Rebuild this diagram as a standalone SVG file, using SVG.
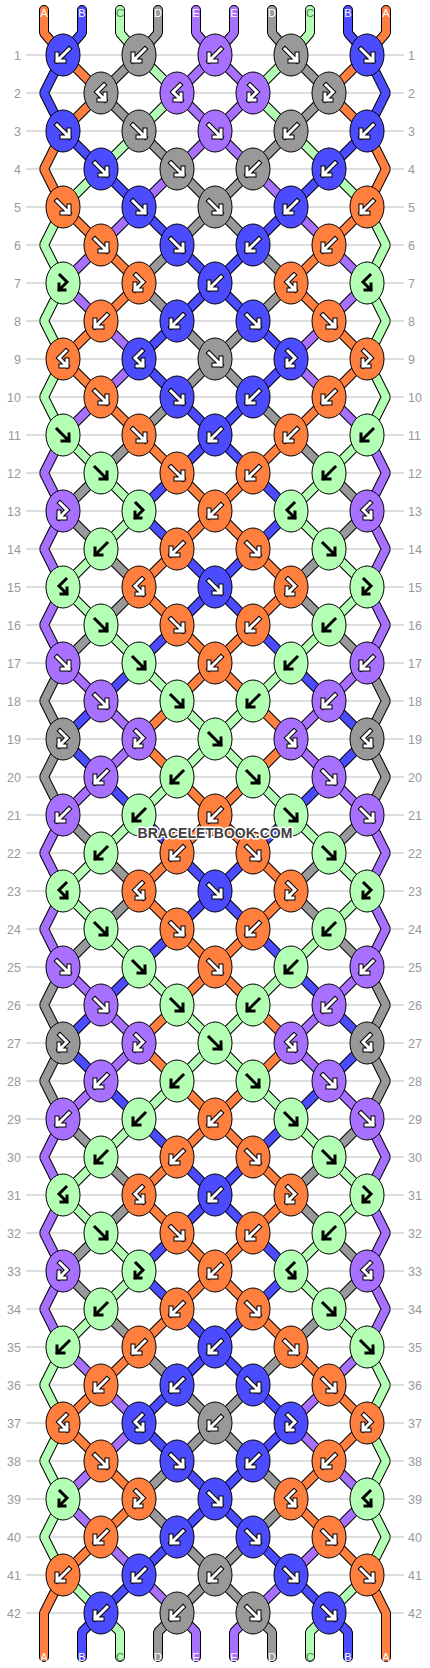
<svg xmlns="http://www.w3.org/2000/svg" xmlns:xlink="http://www.w3.org/1999/xlink" width="430" height="1668" viewBox="0 0 430 1668">
<style>
.ln{stroke:#bbb;stroke-width:1}
.rl{font-family:"Liberation Sans",Arial,sans-serif;font-size:12.5px;fill:#999}
.lt{font-family:"Liberation Sans",Arial,sans-serif;font-size:11px;text-anchor:middle;fill:#fff}
.lt.g{fill:#557755}
.so{fill:none;stroke:#000;stroke-width:10;stroke-linecap:round;stroke-linejoin:bevel}
.sc{fill:none;stroke-width:8;stroke-linecap:round;stroke-linejoin:bevel}
.sA{stroke:#FF7F3F}.sB{stroke:#4B4BFF}.sC{stroke:#B3FFB3}.sD{stroke:#999999}.sE{stroke:#A870FF}
ellipse{stroke:#000;stroke-width:1}
.a{fill:#FF7F3F}.b{fill:#4B4BFF}.c{fill:#B3FFB3}.d{fill:#999999}.e{fill:#A870FF}
.o{fill:none;stroke:#000;stroke-width:5;stroke-linecap:square;stroke-linejoin:miter}
.w{fill:none;stroke:#fff;stroke-width:3;stroke-linecap:square;stroke-linejoin:miter}
.k{fill:none;stroke:#000;stroke-width:3;stroke-linecap:square;stroke-linejoin:miter}
.wm{font-family:"Liberation Sans",Arial,sans-serif;font-weight:bold;font-size:14px;text-anchor:middle;fill:#404040;stroke:#fff;stroke-width:3;paint-order:stroke;stroke-linejoin:round}
</style>
<defs>
<path id="pF" d="M-6,-6L6,6M6,-1V6H-1"/>
<path id="pB" d="M6,-6L-6,6M-6,-1V6H1"/>
<path id="pFB" d="M-3,-8L4,-1L-4,7M-4,1V7H2"/>
<path id="pBF" d="M3,-8L-4,-1L4,7M4,1V7H-2"/>
<g id="wF"><use href="#pF" class="o"/><use href="#pF" class="w"/></g>
<g id="wB"><use href="#pB" class="o"/><use href="#pB" class="w"/></g>
<g id="wFB"><use href="#pFB" class="o"/><use href="#pFB" class="w"/></g>
<g id="wBF"><use href="#pBF" class="o"/><use href="#pBF" class="w"/></g>
<g id="kF"><use href="#pF" class="k"/></g>
<g id="kB"><use href="#pB" class="k"/></g>
<g id="kFB"><use href="#pFB" class="k"/></g>
<g id="kBF"><use href="#pBF" class="k"/></g>
<path id="stA" d="M44,10V33L63,55 101,93 63,131 44,169 63,207 101,245 139,283 101,321 63,359 101,397 139,435 177,473 215,511 177,549 139,587 177,625 215,663 177,701 139,739 177,777 215,815 177,853 139,891 177,929 215,967 177,1005 139,1043 177,1081 215,1119 177,1157 139,1195 177,1233 215,1271 177,1309 139,1347 101,1385 63,1423 101,1461 139,1499 101,1537 63,1575 44,1613V1657"/>
<path id="stB" d="M82,10V33L63,55 44,93 63,131 101,169 139,207 177,245 215,283 177,321 139,359 177,397 215,435 177,473 139,511 177,549 215,587 177,625 139,663 101,701 63,739 101,777 139,815 177,853 215,891 177,929 139,967 101,1005 63,1043 101,1081 139,1119 177,1157 215,1195 177,1233 139,1271 177,1309 215,1347 177,1385 139,1423 177,1461 215,1499 177,1537 139,1575 101,1613 82,1632V1657"/>
<path id="stC" d="M120,10V33L139,55 177,93 139,131 101,169 63,207 44,245 63,283 44,321 63,359 44,397 63,435 101,473 139,511 101,549 63,587 101,625 139,663 177,701 215,739 177,777 139,815 101,853 63,891 101,929 139,967 177,1005 215,1043 177,1081 139,1119 101,1157 63,1195 101,1233 139,1271 101,1309 63,1347 44,1385 63,1423 44,1461 63,1499 44,1537 63,1575 101,1613 120,1632V1657"/>
<path id="stD" d="M158,10V33L139,55 101,93 139,131 177,169 215,207 177,245 139,283 177,321 215,359 177,397 139,435 101,473 63,511 101,549 139,587 101,625 63,663 44,701 63,739 44,777 63,815 101,853 139,891 101,929 63,967 44,1005 63,1043 44,1081 63,1119 101,1157 139,1195 101,1233 63,1271 101,1309 139,1347 177,1385 215,1423 177,1461 139,1499 177,1537 215,1575 177,1613 158,1632V1657"/>
<path id="stE" d="M196,10V33L215,55 177,93 215,131 177,169 139,207 101,245 63,283 101,321 139,359 101,397 63,435 44,473 63,511 44,549 63,587 44,625 63,663 101,701 139,739 101,777 63,815 44,853 63,891 44,929 63,967 101,1005 139,1043 101,1081 63,1119 44,1157 63,1195 44,1233 63,1271 44,1309 63,1347 101,1385 139,1423 101,1461 63,1499 101,1537 139,1575 177,1613 196,1632V1657"/>
</defs>
<rect width="430" height="1668" fill="#fff"/>
<g id="rowlines">
<path class="ln" d="M26,55H404M26,93H404M26,131H404M26,169H404M26,207H404M26,245H404M26,283H404M26,321H404M26,359H404M26,397H404M26,435H404M26,473H404M26,511H404M26,549H404M26,587H404M26,625H404M26,663H404M26,701H404M26,739H404M26,777H404M26,815H404M26,853H404M26,891H404M26,929H404M26,967H404M26,1005H404M26,1043H404M26,1081H404M26,1119H404M26,1157H404M26,1195H404M26,1233H404M26,1271H404M26,1309H404M26,1347H404M26,1385H404M26,1423H404M26,1461H404M26,1499H404M26,1537H404M26,1575H404M26,1613H404"/>
</g>
<g id="rownumbers-left" class="rl" text-anchor="end">
<text x="21" y="59.5">1</text><text x="21" y="97.5">2</text><text x="21" y="135.5">3</text><text x="21" y="173.5">4</text><text x="21" y="211.5">5</text><text x="21" y="249.5">6</text><text x="21" y="287.5">7</text><text x="21" y="325.5">8</text><text x="21" y="363.5">9</text><text x="21" y="401.5">10</text><text x="21" y="439.5">11</text><text x="21" y="477.5">12</text><text x="21" y="515.5">13</text><text x="21" y="553.5">14</text><text x="21" y="591.5">15</text><text x="21" y="629.5">16</text><text x="21" y="667.5">17</text><text x="21" y="705.5">18</text><text x="21" y="743.5">19</text><text x="21" y="781.5">20</text><text x="21" y="819.5">21</text><text x="21" y="857.5">22</text><text x="21" y="895.5">23</text><text x="21" y="933.5">24</text><text x="21" y="971.5">25</text><text x="21" y="1009.5">26</text><text x="21" y="1047.5">27</text><text x="21" y="1085.5">28</text><text x="21" y="1123.5">29</text><text x="21" y="1161.5">30</text><text x="21" y="1199.5">31</text><text x="21" y="1237.5">32</text><text x="21" y="1275.5">33</text><text x="21" y="1313.5">34</text><text x="21" y="1351.5">35</text><text x="21" y="1389.5">36</text><text x="21" y="1427.5">37</text><text x="21" y="1465.5">38</text><text x="21" y="1503.5">39</text><text x="21" y="1541.5">40</text><text x="21" y="1579.5">41</text><text x="21" y="1617.5">42</text>
</g>
<g id="rownumbers-right" class="rl" text-anchor="start">
<text x="408" y="59.5">1</text><text x="408" y="97.5">2</text><text x="408" y="135.5">3</text><text x="408" y="173.5">4</text><text x="408" y="211.5">5</text><text x="408" y="249.5">6</text><text x="408" y="287.5">7</text><text x="408" y="325.5">8</text><text x="408" y="363.5">9</text><text x="408" y="401.5">10</text><text x="408" y="439.5">11</text><text x="408" y="477.5">12</text><text x="408" y="515.5">13</text><text x="408" y="553.5">14</text><text x="408" y="591.5">15</text><text x="408" y="629.5">16</text><text x="408" y="667.5">17</text><text x="408" y="705.5">18</text><text x="408" y="743.5">19</text><text x="408" y="781.5">20</text><text x="408" y="819.5">21</text><text x="408" y="857.5">22</text><text x="408" y="895.5">23</text><text x="408" y="933.5">24</text><text x="408" y="971.5">25</text><text x="408" y="1009.5">26</text><text x="408" y="1047.5">27</text><text x="408" y="1085.5">28</text><text x="408" y="1123.5">29</text><text x="408" y="1161.5">30</text><text x="408" y="1199.5">31</text><text x="408" y="1237.5">32</text><text x="408" y="1275.5">33</text><text x="408" y="1313.5">34</text><text x="408" y="1351.5">35</text><text x="408" y="1389.5">36</text><text x="408" y="1427.5">37</text><text x="408" y="1465.5">38</text><text x="408" y="1503.5">39</text><text x="408" y="1541.5">40</text><text x="408" y="1579.5">41</text><text x="408" y="1617.5">42</text>
</g>
<g id="connectors">
<use href="#stA" class="so"/><use href="#stB" class="so"/><use href="#stC" class="so"/><use href="#stD" class="so"/><use href="#stE" class="so"/>
<use href="#stA" class="so" transform="matrix(-1 0 0 1 430 0)"/><use href="#stB" class="so" transform="matrix(-1 0 0 1 430 0)"/><use href="#stC" class="so" transform="matrix(-1 0 0 1 430 0)"/><use href="#stD" class="so" transform="matrix(-1 0 0 1 430 0)"/><use href="#stE" class="so" transform="matrix(-1 0 0 1 430 0)"/>
<use href="#stA" class="sc sA"/><use href="#stB" class="sc sB"/><use href="#stC" class="sc sC"/><use href="#stD" class="sc sD"/><use href="#stE" class="sc sE"/>
<use href="#stA" class="sc sA" transform="matrix(-1 0 0 1 430 0)"/><use href="#stB" class="sc sB" transform="matrix(-1 0 0 1 430 0)"/><use href="#stC" class="sc sC" transform="matrix(-1 0 0 1 430 0)"/><use href="#stD" class="sc sD" transform="matrix(-1 0 0 1 430 0)"/><use href="#stE" class="sc sE" transform="matrix(-1 0 0 1 430 0)"/>
</g>
<g id="strand-labels">
<text class="lt" x="44" y="17">A</text><text class="lt" x="82" y="17">B</text><text class="lt g" x="120" y="17">C</text><text class="lt" x="158" y="17">D</text><text class="lt" x="196" y="17">E</text><text class="lt" x="234" y="17">E</text><text class="lt" x="272" y="17">D</text><text class="lt g" x="310" y="17">C</text><text class="lt" x="348" y="17">B</text><text class="lt" x="386" y="17">A</text>
<text class="lt" x="44" y="1661">A</text><text class="lt" x="82" y="1661">B</text><text class="lt g" x="120" y="1661">C</text><text class="lt" x="158" y="1661">D</text><text class="lt" x="196" y="1661">E</text><text class="lt" x="234" y="1661">E</text><text class="lt" x="272" y="1661">D</text><text class="lt g" x="310" y="1661">C</text><text class="lt" x="348" y="1661">B</text><text class="lt" x="386" y="1661">A</text>
</g>
<g id="nodes">
<g id="n1-1"><ellipse class="b" cx="63" cy="55" rx="17" ry="21"/><use href="#wB" x="63" y="55"/></g>
<g id="n1-2"><ellipse class="d" cx="139" cy="55" rx="17" ry="21"/><use href="#wB" x="139" y="55"/></g>
<g id="n1-3"><ellipse class="e" cx="215" cy="55" rx="17" ry="21"/><use href="#wB" x="215" y="55"/></g>
<g id="n1-4"><ellipse class="d" cx="291" cy="55" rx="17" ry="21"/><use href="#wF" x="291" y="55"/></g>
<g id="n1-5"><ellipse class="b" cx="367" cy="55" rx="17" ry="21"/><use href="#wF" x="367" y="55"/></g>
<g id="n2-1"><ellipse class="d" cx="101" cy="93" rx="17" ry="21"/><use href="#wBF" x="101" y="93"/></g>
<g id="n2-2"><ellipse class="e" cx="177" cy="93" rx="17" ry="21"/><use href="#wBF" x="177" y="93"/></g>
<g id="n2-3"><ellipse class="e" cx="253" cy="93" rx="17" ry="21"/><use href="#wFB" x="253" y="93"/></g>
<g id="n2-4"><ellipse class="d" cx="329" cy="93" rx="17" ry="21"/><use href="#wFB" x="329" y="93"/></g>
<g id="n3-1"><ellipse class="b" cx="63" cy="131" rx="17" ry="21"/><use href="#wF" x="63" y="131"/></g>
<g id="n3-2"><ellipse class="d" cx="139" cy="131" rx="17" ry="21"/><use href="#wF" x="139" y="131"/></g>
<g id="n3-3"><ellipse class="e" cx="215" cy="131" rx="17" ry="21"/><use href="#wF" x="215" y="131"/></g>
<g id="n3-4"><ellipse class="d" cx="291" cy="131" rx="17" ry="21"/><use href="#wB" x="291" y="131"/></g>
<g id="n3-5"><ellipse class="b" cx="367" cy="131" rx="17" ry="21"/><use href="#wB" x="367" y="131"/></g>
<g id="n4-1"><ellipse class="b" cx="101" cy="169" rx="17" ry="21"/><use href="#wF" x="101" y="169"/></g>
<g id="n4-2"><ellipse class="d" cx="177" cy="169" rx="17" ry="21"/><use href="#wF" x="177" y="169"/></g>
<g id="n4-3"><ellipse class="d" cx="253" cy="169" rx="17" ry="21"/><use href="#wB" x="253" y="169"/></g>
<g id="n4-4"><ellipse class="b" cx="329" cy="169" rx="17" ry="21"/><use href="#wB" x="329" y="169"/></g>
<g id="n5-1"><ellipse class="a" cx="63" cy="207" rx="17" ry="21"/><use href="#wF" x="63" y="207"/></g>
<g id="n5-2"><ellipse class="b" cx="139" cy="207" rx="17" ry="21"/><use href="#wF" x="139" y="207"/></g>
<g id="n5-3"><ellipse class="d" cx="215" cy="207" rx="17" ry="21"/><use href="#wF" x="215" y="207"/></g>
<g id="n5-4"><ellipse class="b" cx="291" cy="207" rx="17" ry="21"/><use href="#wB" x="291" y="207"/></g>
<g id="n5-5"><ellipse class="a" cx="367" cy="207" rx="17" ry="21"/><use href="#wB" x="367" y="207"/></g>
<g id="n6-1"><ellipse class="a" cx="101" cy="245" rx="17" ry="21"/><use href="#wF" x="101" y="245"/></g>
<g id="n6-2"><ellipse class="b" cx="177" cy="245" rx="17" ry="21"/><use href="#wF" x="177" y="245"/></g>
<g id="n6-3"><ellipse class="b" cx="253" cy="245" rx="17" ry="21"/><use href="#wB" x="253" y="245"/></g>
<g id="n6-4"><ellipse class="a" cx="329" cy="245" rx="17" ry="21"/><use href="#wB" x="329" y="245"/></g>
<g id="n7-1"><ellipse class="c" cx="63" cy="283" rx="17" ry="21"/><use href="#kFB" x="63" y="283"/></g>
<g id="n7-2"><ellipse class="a" cx="139" cy="283" rx="17" ry="21"/><use href="#wFB" x="139" y="283"/></g>
<g id="n7-3"><ellipse class="b" cx="215" cy="283" rx="17" ry="21"/><use href="#wB" x="215" y="283"/></g>
<g id="n7-4"><ellipse class="a" cx="291" cy="283" rx="17" ry="21"/><use href="#wBF" x="291" y="283"/></g>
<g id="n7-5"><ellipse class="c" cx="367" cy="283" rx="17" ry="21"/><use href="#kBF" x="367" y="283"/></g>
<g id="n8-1"><ellipse class="a" cx="101" cy="321" rx="17" ry="21"/><use href="#wB" x="101" y="321"/></g>
<g id="n8-2"><ellipse class="b" cx="177" cy="321" rx="17" ry="21"/><use href="#wB" x="177" y="321"/></g>
<g id="n8-3"><ellipse class="b" cx="253" cy="321" rx="17" ry="21"/><use href="#wF" x="253" y="321"/></g>
<g id="n8-4"><ellipse class="a" cx="329" cy="321" rx="17" ry="21"/><use href="#wF" x="329" y="321"/></g>
<g id="n9-1"><ellipse class="a" cx="63" cy="359" rx="17" ry="21"/><use href="#wBF" x="63" y="359"/></g>
<g id="n9-2"><ellipse class="b" cx="139" cy="359" rx="17" ry="21"/><use href="#wBF" x="139" y="359"/></g>
<g id="n9-3"><ellipse class="d" cx="215" cy="359" rx="17" ry="21"/><use href="#wF" x="215" y="359"/></g>
<g id="n9-4"><ellipse class="b" cx="291" cy="359" rx="17" ry="21"/><use href="#wFB" x="291" y="359"/></g>
<g id="n9-5"><ellipse class="a" cx="367" cy="359" rx="17" ry="21"/><use href="#wFB" x="367" y="359"/></g>
<g id="n10-1"><ellipse class="a" cx="101" cy="397" rx="17" ry="21"/><use href="#wF" x="101" y="397"/></g>
<g id="n10-2"><ellipse class="b" cx="177" cy="397" rx="17" ry="21"/><use href="#wF" x="177" y="397"/></g>
<g id="n10-3"><ellipse class="b" cx="253" cy="397" rx="17" ry="21"/><use href="#wB" x="253" y="397"/></g>
<g id="n10-4"><ellipse class="a" cx="329" cy="397" rx="17" ry="21"/><use href="#wB" x="329" y="397"/></g>
<g id="n11-1"><ellipse class="c" cx="63" cy="435" rx="17" ry="21"/><use href="#kF" x="63" y="435"/></g>
<g id="n11-2"><ellipse class="a" cx="139" cy="435" rx="17" ry="21"/><use href="#wF" x="139" y="435"/></g>
<g id="n11-3"><ellipse class="b" cx="215" cy="435" rx="17" ry="21"/><use href="#wB" x="215" y="435"/></g>
<g id="n11-4"><ellipse class="a" cx="291" cy="435" rx="17" ry="21"/><use href="#wB" x="291" y="435"/></g>
<g id="n11-5"><ellipse class="c" cx="367" cy="435" rx="17" ry="21"/><use href="#kB" x="367" y="435"/></g>
<g id="n12-1"><ellipse class="c" cx="101" cy="473" rx="17" ry="21"/><use href="#kF" x="101" y="473"/></g>
<g id="n12-2"><ellipse class="a" cx="177" cy="473" rx="17" ry="21"/><use href="#wF" x="177" y="473"/></g>
<g id="n12-3"><ellipse class="a" cx="253" cy="473" rx="17" ry="21"/><use href="#wB" x="253" y="473"/></g>
<g id="n12-4"><ellipse class="c" cx="329" cy="473" rx="17" ry="21"/><use href="#kB" x="329" y="473"/></g>
<g id="n13-1"><ellipse class="e" cx="63" cy="511" rx="17" ry="21"/><use href="#wFB" x="63" y="511"/></g>
<g id="n13-2"><ellipse class="c" cx="139" cy="511" rx="17" ry="21"/><use href="#kFB" x="139" y="511"/></g>
<g id="n13-3"><ellipse class="a" cx="215" cy="511" rx="17" ry="21"/><use href="#wB" x="215" y="511"/></g>
<g id="n13-4"><ellipse class="c" cx="291" cy="511" rx="17" ry="21"/><use href="#kBF" x="291" y="511"/></g>
<g id="n13-5"><ellipse class="e" cx="367" cy="511" rx="17" ry="21"/><use href="#wBF" x="367" y="511"/></g>
<g id="n14-1"><ellipse class="c" cx="101" cy="549" rx="17" ry="21"/><use href="#kB" x="101" y="549"/></g>
<g id="n14-2"><ellipse class="a" cx="177" cy="549" rx="17" ry="21"/><use href="#wB" x="177" y="549"/></g>
<g id="n14-3"><ellipse class="a" cx="253" cy="549" rx="17" ry="21"/><use href="#wF" x="253" y="549"/></g>
<g id="n14-4"><ellipse class="c" cx="329" cy="549" rx="17" ry="21"/><use href="#kF" x="329" y="549"/></g>
<g id="n15-1"><ellipse class="c" cx="63" cy="587" rx="17" ry="21"/><use href="#kBF" x="63" y="587"/></g>
<g id="n15-2"><ellipse class="a" cx="139" cy="587" rx="17" ry="21"/><use href="#wBF" x="139" y="587"/></g>
<g id="n15-3"><ellipse class="b" cx="215" cy="587" rx="17" ry="21"/><use href="#wF" x="215" y="587"/></g>
<g id="n15-4"><ellipse class="a" cx="291" cy="587" rx="17" ry="21"/><use href="#wFB" x="291" y="587"/></g>
<g id="n15-5"><ellipse class="c" cx="367" cy="587" rx="17" ry="21"/><use href="#kFB" x="367" y="587"/></g>
<g id="n16-1"><ellipse class="c" cx="101" cy="625" rx="17" ry="21"/><use href="#kF" x="101" y="625"/></g>
<g id="n16-2"><ellipse class="a" cx="177" cy="625" rx="17" ry="21"/><use href="#wF" x="177" y="625"/></g>
<g id="n16-3"><ellipse class="a" cx="253" cy="625" rx="17" ry="21"/><use href="#wB" x="253" y="625"/></g>
<g id="n16-4"><ellipse class="c" cx="329" cy="625" rx="17" ry="21"/><use href="#kB" x="329" y="625"/></g>
<g id="n17-1"><ellipse class="e" cx="63" cy="663" rx="17" ry="21"/><use href="#wF" x="63" y="663"/></g>
<g id="n17-2"><ellipse class="c" cx="139" cy="663" rx="17" ry="21"/><use href="#kF" x="139" y="663"/></g>
<g id="n17-3"><ellipse class="a" cx="215" cy="663" rx="17" ry="21"/><use href="#wB" x="215" y="663"/></g>
<g id="n17-4"><ellipse class="c" cx="291" cy="663" rx="17" ry="21"/><use href="#kB" x="291" y="663"/></g>
<g id="n17-5"><ellipse class="e" cx="367" cy="663" rx="17" ry="21"/><use href="#wB" x="367" y="663"/></g>
<g id="n18-1"><ellipse class="e" cx="101" cy="701" rx="17" ry="21"/><use href="#wF" x="101" y="701"/></g>
<g id="n18-2"><ellipse class="c" cx="177" cy="701" rx="17" ry="21"/><use href="#kF" x="177" y="701"/></g>
<g id="n18-3"><ellipse class="c" cx="253" cy="701" rx="17" ry="21"/><use href="#kB" x="253" y="701"/></g>
<g id="n18-4"><ellipse class="e" cx="329" cy="701" rx="17" ry="21"/><use href="#wB" x="329" y="701"/></g>
<g id="n19-1"><ellipse class="d" cx="63" cy="739" rx="17" ry="21"/><use href="#wFB" x="63" y="739"/></g>
<g id="n19-2"><ellipse class="e" cx="139" cy="739" rx="17" ry="21"/><use href="#wFB" x="139" y="739"/></g>
<g id="n19-3"><ellipse class="c" cx="215" cy="739" rx="17" ry="21"/><use href="#kF" x="215" y="739"/></g>
<g id="n19-4"><ellipse class="e" cx="291" cy="739" rx="17" ry="21"/><use href="#wBF" x="291" y="739"/></g>
<g id="n19-5"><ellipse class="d" cx="367" cy="739" rx="17" ry="21"/><use href="#wBF" x="367" y="739"/></g>
<g id="n20-1"><ellipse class="e" cx="101" cy="777" rx="17" ry="21"/><use href="#wB" x="101" y="777"/></g>
<g id="n20-2"><ellipse class="c" cx="177" cy="777" rx="17" ry="21"/><use href="#kB" x="177" y="777"/></g>
<g id="n20-3"><ellipse class="c" cx="253" cy="777" rx="17" ry="21"/><use href="#kF" x="253" y="777"/></g>
<g id="n20-4"><ellipse class="e" cx="329" cy="777" rx="17" ry="21"/><use href="#wF" x="329" y="777"/></g>
<g id="n21-1"><ellipse class="e" cx="63" cy="815" rx="17" ry="21"/><use href="#wB" x="63" y="815"/></g>
<g id="n21-2"><ellipse class="c" cx="139" cy="815" rx="17" ry="21"/><use href="#kB" x="139" y="815"/></g>
<g id="n21-3"><ellipse class="a" cx="215" cy="815" rx="17" ry="21"/><use href="#wB" x="215" y="815"/></g>
<g id="n21-4"><ellipse class="c" cx="291" cy="815" rx="17" ry="21"/><use href="#kF" x="291" y="815"/></g>
<g id="n21-5"><ellipse class="e" cx="367" cy="815" rx="17" ry="21"/><use href="#wF" x="367" y="815"/></g>
<g id="n22-1"><ellipse class="c" cx="101" cy="853" rx="17" ry="21"/><use href="#kB" x="101" y="853"/></g>
<g id="n22-2"><ellipse class="a" cx="177" cy="853" rx="17" ry="21"/><use href="#wB" x="177" y="853"/></g>
<g id="n22-3"><ellipse class="a" cx="253" cy="853" rx="17" ry="21"/><use href="#wF" x="253" y="853"/></g>
<g id="n22-4"><ellipse class="c" cx="329" cy="853" rx="17" ry="21"/><use href="#kF" x="329" y="853"/></g>
<g id="n23-1"><ellipse class="c" cx="63" cy="891" rx="17" ry="21"/><use href="#kBF" x="63" y="891"/></g>
<g id="n23-2"><ellipse class="a" cx="139" cy="891" rx="17" ry="21"/><use href="#wBF" x="139" y="891"/></g>
<g id="n23-3"><ellipse class="b" cx="215" cy="891" rx="17" ry="21"/><use href="#wF" x="215" y="891"/></g>
<g id="n23-4"><ellipse class="a" cx="291" cy="891" rx="17" ry="21"/><use href="#wFB" x="291" y="891"/></g>
<g id="n23-5"><ellipse class="c" cx="367" cy="891" rx="17" ry="21"/><use href="#kFB" x="367" y="891"/></g>
<g id="n24-1"><ellipse class="c" cx="101" cy="929" rx="17" ry="21"/><use href="#kF" x="101" y="929"/></g>
<g id="n24-2"><ellipse class="a" cx="177" cy="929" rx="17" ry="21"/><use href="#wF" x="177" y="929"/></g>
<g id="n24-3"><ellipse class="a" cx="253" cy="929" rx="17" ry="21"/><use href="#wB" x="253" y="929"/></g>
<g id="n24-4"><ellipse class="c" cx="329" cy="929" rx="17" ry="21"/><use href="#kB" x="329" y="929"/></g>
<g id="n25-1"><ellipse class="e" cx="63" cy="967" rx="17" ry="21"/><use href="#wF" x="63" y="967"/></g>
<g id="n25-2"><ellipse class="c" cx="139" cy="967" rx="17" ry="21"/><use href="#kF" x="139" y="967"/></g>
<g id="n25-3"><ellipse class="a" cx="215" cy="967" rx="17" ry="21"/><use href="#wF" x="215" y="967"/></g>
<g id="n25-4"><ellipse class="c" cx="291" cy="967" rx="17" ry="21"/><use href="#kB" x="291" y="967"/></g>
<g id="n25-5"><ellipse class="e" cx="367" cy="967" rx="17" ry="21"/><use href="#wB" x="367" y="967"/></g>
<g id="n26-1"><ellipse class="e" cx="101" cy="1005" rx="17" ry="21"/><use href="#wF" x="101" y="1005"/></g>
<g id="n26-2"><ellipse class="c" cx="177" cy="1005" rx="17" ry="21"/><use href="#kF" x="177" y="1005"/></g>
<g id="n26-3"><ellipse class="c" cx="253" cy="1005" rx="17" ry="21"/><use href="#kB" x="253" y="1005"/></g>
<g id="n26-4"><ellipse class="e" cx="329" cy="1005" rx="17" ry="21"/><use href="#wB" x="329" y="1005"/></g>
<g id="n27-1"><ellipse class="d" cx="63" cy="1043" rx="17" ry="21"/><use href="#wFB" x="63" y="1043"/></g>
<g id="n27-2"><ellipse class="e" cx="139" cy="1043" rx="17" ry="21"/><use href="#wFB" x="139" y="1043"/></g>
<g id="n27-3"><ellipse class="c" cx="215" cy="1043" rx="17" ry="21"/><use href="#kF" x="215" y="1043"/></g>
<g id="n27-4"><ellipse class="e" cx="291" cy="1043" rx="17" ry="21"/><use href="#wBF" x="291" y="1043"/></g>
<g id="n27-5"><ellipse class="d" cx="367" cy="1043" rx="17" ry="21"/><use href="#wBF" x="367" y="1043"/></g>
<g id="n28-1"><ellipse class="e" cx="101" cy="1081" rx="17" ry="21"/><use href="#wB" x="101" y="1081"/></g>
<g id="n28-2"><ellipse class="c" cx="177" cy="1081" rx="17" ry="21"/><use href="#kB" x="177" y="1081"/></g>
<g id="n28-3"><ellipse class="c" cx="253" cy="1081" rx="17" ry="21"/><use href="#kF" x="253" y="1081"/></g>
<g id="n28-4"><ellipse class="e" cx="329" cy="1081" rx="17" ry="21"/><use href="#wF" x="329" y="1081"/></g>
<g id="n29-1"><ellipse class="e" cx="63" cy="1119" rx="17" ry="21"/><use href="#wB" x="63" y="1119"/></g>
<g id="n29-2"><ellipse class="c" cx="139" cy="1119" rx="17" ry="21"/><use href="#kB" x="139" y="1119"/></g>
<g id="n29-3"><ellipse class="a" cx="215" cy="1119" rx="17" ry="21"/><use href="#wB" x="215" y="1119"/></g>
<g id="n29-4"><ellipse class="c" cx="291" cy="1119" rx="17" ry="21"/><use href="#kF" x="291" y="1119"/></g>
<g id="n29-5"><ellipse class="e" cx="367" cy="1119" rx="17" ry="21"/><use href="#wF" x="367" y="1119"/></g>
<g id="n30-1"><ellipse class="c" cx="101" cy="1157" rx="17" ry="21"/><use href="#kB" x="101" y="1157"/></g>
<g id="n30-2"><ellipse class="a" cx="177" cy="1157" rx="17" ry="21"/><use href="#wB" x="177" y="1157"/></g>
<g id="n30-3"><ellipse class="a" cx="253" cy="1157" rx="17" ry="21"/><use href="#wF" x="253" y="1157"/></g>
<g id="n30-4"><ellipse class="c" cx="329" cy="1157" rx="17" ry="21"/><use href="#kF" x="329" y="1157"/></g>
<g id="n31-1"><ellipse class="c" cx="63" cy="1195" rx="17" ry="21"/><use href="#kBF" x="63" y="1195"/></g>
<g id="n31-2"><ellipse class="a" cx="139" cy="1195" rx="17" ry="21"/><use href="#wBF" x="139" y="1195"/></g>
<g id="n31-3"><ellipse class="b" cx="215" cy="1195" rx="17" ry="21"/><use href="#wB" x="215" y="1195"/></g>
<g id="n31-4"><ellipse class="a" cx="291" cy="1195" rx="17" ry="21"/><use href="#wFB" x="291" y="1195"/></g>
<g id="n31-5"><ellipse class="c" cx="367" cy="1195" rx="17" ry="21"/><use href="#kFB" x="367" y="1195"/></g>
<g id="n32-1"><ellipse class="c" cx="101" cy="1233" rx="17" ry="21"/><use href="#kF" x="101" y="1233"/></g>
<g id="n32-2"><ellipse class="a" cx="177" cy="1233" rx="17" ry="21"/><use href="#wF" x="177" y="1233"/></g>
<g id="n32-3"><ellipse class="a" cx="253" cy="1233" rx="17" ry="21"/><use href="#wB" x="253" y="1233"/></g>
<g id="n32-4"><ellipse class="c" cx="329" cy="1233" rx="17" ry="21"/><use href="#kB" x="329" y="1233"/></g>
<g id="n33-1"><ellipse class="e" cx="63" cy="1271" rx="17" ry="21"/><use href="#wFB" x="63" y="1271"/></g>
<g id="n33-2"><ellipse class="c" cx="139" cy="1271" rx="17" ry="21"/><use href="#kFB" x="139" y="1271"/></g>
<g id="n33-3"><ellipse class="a" cx="215" cy="1271" rx="17" ry="21"/><use href="#wB" x="215" y="1271"/></g>
<g id="n33-4"><ellipse class="c" cx="291" cy="1271" rx="17" ry="21"/><use href="#kBF" x="291" y="1271"/></g>
<g id="n33-5"><ellipse class="e" cx="367" cy="1271" rx="17" ry="21"/><use href="#wBF" x="367" y="1271"/></g>
<g id="n34-1"><ellipse class="c" cx="101" cy="1309" rx="17" ry="21"/><use href="#kB" x="101" y="1309"/></g>
<g id="n34-2"><ellipse class="a" cx="177" cy="1309" rx="17" ry="21"/><use href="#wB" x="177" y="1309"/></g>
<g id="n34-3"><ellipse class="a" cx="253" cy="1309" rx="17" ry="21"/><use href="#wF" x="253" y="1309"/></g>
<g id="n34-4"><ellipse class="c" cx="329" cy="1309" rx="17" ry="21"/><use href="#kF" x="329" y="1309"/></g>
<g id="n35-1"><ellipse class="c" cx="63" cy="1347" rx="17" ry="21"/><use href="#kB" x="63" y="1347"/></g>
<g id="n35-2"><ellipse class="a" cx="139" cy="1347" rx="17" ry="21"/><use href="#wB" x="139" y="1347"/></g>
<g id="n35-3"><ellipse class="b" cx="215" cy="1347" rx="17" ry="21"/><use href="#wB" x="215" y="1347"/></g>
<g id="n35-4"><ellipse class="a" cx="291" cy="1347" rx="17" ry="21"/><use href="#wF" x="291" y="1347"/></g>
<g id="n35-5"><ellipse class="c" cx="367" cy="1347" rx="17" ry="21"/><use href="#kF" x="367" y="1347"/></g>
<g id="n36-1"><ellipse class="a" cx="101" cy="1385" rx="17" ry="21"/><use href="#wB" x="101" y="1385"/></g>
<g id="n36-2"><ellipse class="b" cx="177" cy="1385" rx="17" ry="21"/><use href="#wB" x="177" y="1385"/></g>
<g id="n36-3"><ellipse class="b" cx="253" cy="1385" rx="17" ry="21"/><use href="#wF" x="253" y="1385"/></g>
<g id="n36-4"><ellipse class="a" cx="329" cy="1385" rx="17" ry="21"/><use href="#wF" x="329" y="1385"/></g>
<g id="n37-1"><ellipse class="a" cx="63" cy="1423" rx="17" ry="21"/><use href="#wBF" x="63" y="1423"/></g>
<g id="n37-2"><ellipse class="b" cx="139" cy="1423" rx="17" ry="21"/><use href="#wBF" x="139" y="1423"/></g>
<g id="n37-3"><ellipse class="d" cx="215" cy="1423" rx="17" ry="21"/><use href="#wB" x="215" y="1423"/></g>
<g id="n37-4"><ellipse class="b" cx="291" cy="1423" rx="17" ry="21"/><use href="#wFB" x="291" y="1423"/></g>
<g id="n37-5"><ellipse class="a" cx="367" cy="1423" rx="17" ry="21"/><use href="#wFB" x="367" y="1423"/></g>
<g id="n38-1"><ellipse class="a" cx="101" cy="1461" rx="17" ry="21"/><use href="#wF" x="101" y="1461"/></g>
<g id="n38-2"><ellipse class="b" cx="177" cy="1461" rx="17" ry="21"/><use href="#wF" x="177" y="1461"/></g>
<g id="n38-3"><ellipse class="b" cx="253" cy="1461" rx="17" ry="21"/><use href="#wB" x="253" y="1461"/></g>
<g id="n38-4"><ellipse class="a" cx="329" cy="1461" rx="17" ry="21"/><use href="#wB" x="329" y="1461"/></g>
<g id="n39-1"><ellipse class="c" cx="63" cy="1499" rx="17" ry="21"/><use href="#kFB" x="63" y="1499"/></g>
<g id="n39-2"><ellipse class="a" cx="139" cy="1499" rx="17" ry="21"/><use href="#wFB" x="139" y="1499"/></g>
<g id="n39-3"><ellipse class="b" cx="215" cy="1499" rx="17" ry="21"/><use href="#wF" x="215" y="1499"/></g>
<g id="n39-4"><ellipse class="a" cx="291" cy="1499" rx="17" ry="21"/><use href="#wBF" x="291" y="1499"/></g>
<g id="n39-5"><ellipse class="c" cx="367" cy="1499" rx="17" ry="21"/><use href="#kBF" x="367" y="1499"/></g>
<g id="n40-1"><ellipse class="a" cx="101" cy="1537" rx="17" ry="21"/><use href="#wB" x="101" y="1537"/></g>
<g id="n40-2"><ellipse class="b" cx="177" cy="1537" rx="17" ry="21"/><use href="#wB" x="177" y="1537"/></g>
<g id="n40-3"><ellipse class="b" cx="253" cy="1537" rx="17" ry="21"/><use href="#wF" x="253" y="1537"/></g>
<g id="n40-4"><ellipse class="a" cx="329" cy="1537" rx="17" ry="21"/><use href="#wF" x="329" y="1537"/></g>
<g id="n41-1"><ellipse class="a" cx="63" cy="1575" rx="17" ry="21"/><use href="#wB" x="63" y="1575"/></g>
<g id="n41-2"><ellipse class="b" cx="139" cy="1575" rx="17" ry="21"/><use href="#wB" x="139" y="1575"/></g>
<g id="n41-3"><ellipse class="d" cx="215" cy="1575" rx="17" ry="21"/><use href="#wB" x="215" y="1575"/></g>
<g id="n41-4"><ellipse class="b" cx="291" cy="1575" rx="17" ry="21"/><use href="#wF" x="291" y="1575"/></g>
<g id="n41-5"><ellipse class="a" cx="367" cy="1575" rx="17" ry="21"/><use href="#wF" x="367" y="1575"/></g>
<g id="n42-1"><ellipse class="b" cx="101" cy="1613" rx="17" ry="21"/><use href="#wB" x="101" y="1613"/></g>
<g id="n42-2"><ellipse class="d" cx="177" cy="1613" rx="17" ry="21"/><use href="#wB" x="177" y="1613"/></g>
<g id="n42-3"><ellipse class="d" cx="253" cy="1613" rx="17" ry="21"/><use href="#wF" x="253" y="1613"/></g>
<g id="n42-4"><ellipse class="b" cx="329" cy="1613" rx="17" ry="21"/><use href="#wF" x="329" y="1613"/></g>
</g>
<text id="watermark" class="wm" x="215" y="838">BRACELETBOOK.COM</text>
</svg>
